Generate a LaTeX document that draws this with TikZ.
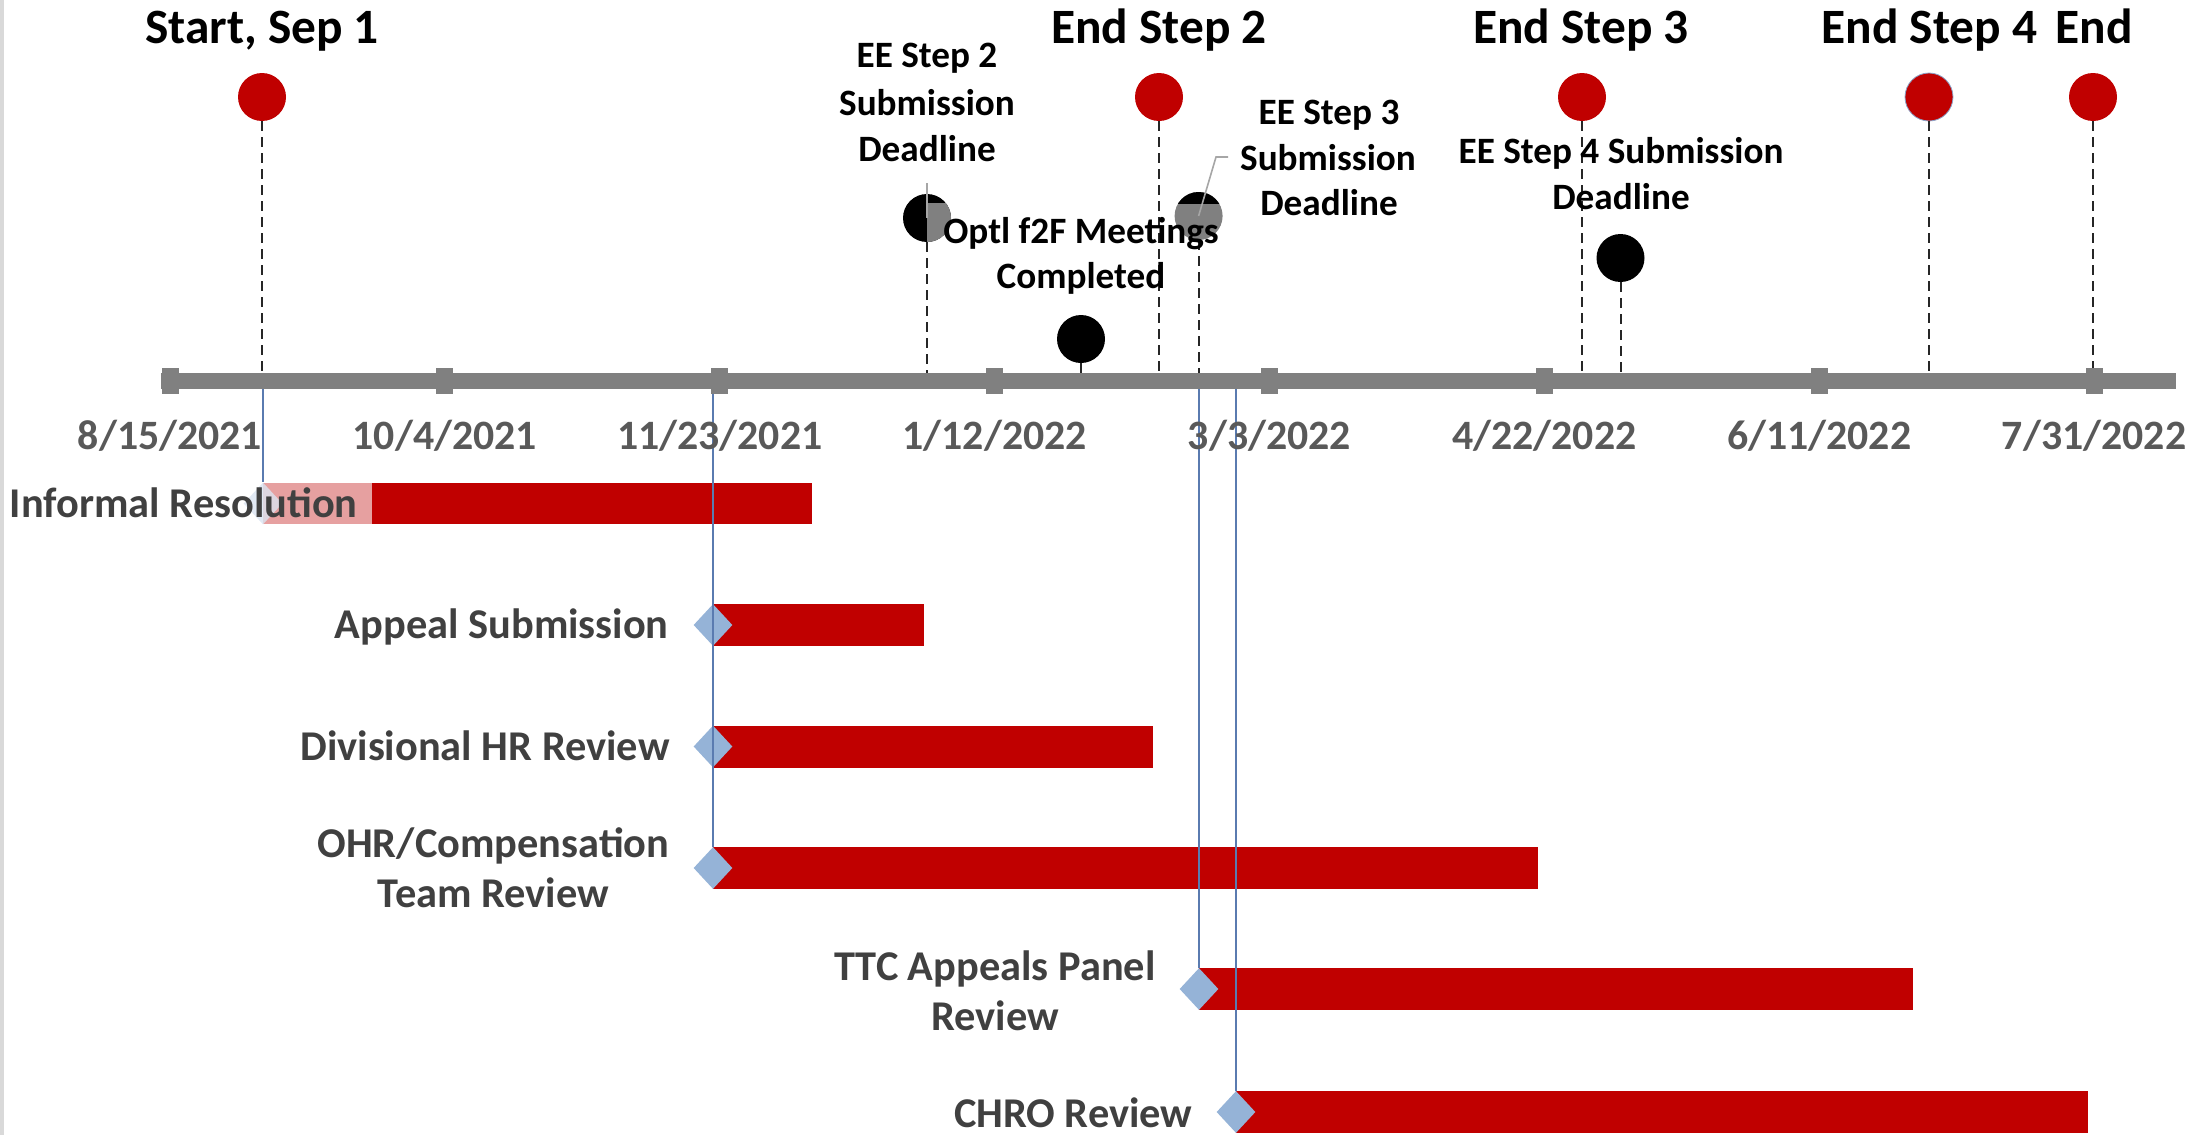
\documentclass[tikz,border=0pt]{standalone}
\usepackage{fontspec}
\setmainfont{Carlito}
\usetikzlibrary{shapes.geometric}
\definecolor{barred}{HTML}{C00000}
\definecolor{barpink}{HTML}{E6A0A0}
\definecolor{dia}{HTML}{95B3D7}
\definecolor{bline}{HTML}{5A7BB0}
\definecolor{axisgray}{HTML}{808080}
\definecolor{dategray}{HTML}{595959}
\definecolor{taskgray}{HTML}{404040}
\definecolor{leadgray}{HTML}{A6A6A6}
\definecolor{edgegray}{HTML}{D9D9D9}
\tikzset{
  milestone/.style={circle, fill=barred, minimum size=24pt, inner sep=0pt},
  eventdot/.style={circle, fill=black, minimum size=24pt, inner sep=0pt},
  dropline/.style={dash pattern=on 5pt off 3pt, line width=1pt, draw=black!85},
  leader/.style={draw=leadgray, line width=0.8pt},
  bigtitle/.style={font=\fontsize{24.7}{29}\selectfont\bfseries, anchor=base, inner sep=0pt},
  eelabel/.style={font=\fontsize{18.6}{22}\selectfont\bfseries, anchor=base, inner sep=0pt},
  datelabel/.style={font=\fontsize{20.9}{25}\selectfont\bfseries, text=dategray, anchor=base, inner sep=0pt},
  tasklabel/.style={font=\fontsize{21.2}{25}\selectfont\bfseries, text=taskgray, anchor=base east, inner sep=0pt},
  taskcenter/.style={font=\fontsize{21.2}{25}\selectfont\bfseries, text=taskgray, anchor=base, inner sep=0pt},
  msdiamond/.style={diamond, fill=dia, minimum width=19.5pt, minimum height=21pt, inner sep=0pt},
  blueline/.style={draw=bline, line width=1pt},
}
\begin{document}
\begin{tikzpicture}[x=0.5pt,y=-0.5pt]
\useasboundingbox (0,0) rectangle (2207,1135);
\fill[edgegray] (0,0) rectangle (4,1135);

% bars
\fill[barpink] (263,483) rectangle (372,524);
\fill[barred] (372,483) rectangle (812,524);
\fill[barred] (713,604) rectangle (924,646);
\fill[barred] (713,725.5) rectangle (1153,767.5);
\fill[barred] (713,847) rectangle (1538,889);
\fill[barred] (1199,968) rectangle (1913,1010);
\fill[barred] (1236,1091) rectangle (2088,1133);

% axis coordinates
\coordinate (axL) at (161,381);
\coordinate (axR) at (2176,381);
\coordinate (axtop) at (0,373);

% diamonds
\node[msdiamond, fill=dia!35, opacity=0.8] (dInf) at (263,503.5) {};
\node[msdiamond] (dApp) at (713,625) {};
\node[msdiamond] (dDiv) at (713,746.5) {};
\node[msdiamond] (dOHR) at (713,868) {};
\node[msdiamond] (dTTC) at (1199,989) {};
\node[msdiamond] (dCHRO) at (1236,1112) {};

% blue guide lines
\coordinate (gInf) at (263,381);
\coordinate (gOHR) at (713,381);
\coordinate (gTTC) at (1199,381);
\coordinate (gCHRO) at (1236,381);
\draw[blueline] (gInf) -- (dInf.north);
\draw[blueline] (gOHR) -- (dOHR.north);
\draw[blueline] (gTTC) -- (dTTC.north);
\draw[blueline] (gCHRO) -- (dCHRO.north);

% event circles
\node[milestone] (start) at (262,97) {};
\node[eventdot] (ee2) at (927,218) {};
\node[eventdot] (optl) at (1081,339) {};
\node[milestone] (end2) at (1159,97) {};
\node[circle, fill=axisgray, minimum size=24pt, inner sep=0pt] (ee3) at (1198.6,216) {};
\node[milestone] (end3) at (1582,97) {};
\node[eventdot] (ee4) at (1620.5,258) {};
\node[milestone, draw=bline!70, line width=0.4pt] (end4) at (1929,97) {};
\node[milestone] (endall) at (2093,97) {};

% partial shading inside the two deadline dots
\begin{scope}
  \clip (927,218) circle [radius=24];
  \fill[axisgray] (927,203) rectangle (960,250);
\end{scope}
\begin{scope}
  \clip (1198.6,216) circle [radius=24];
  \fill[black] (1170,180) rectangle (1230,204);
\end{scope}

% drop lines
\draw[dropline] (start.south) -- (start.south |- axtop);
\draw[dropline] (ee2.south) -- (ee2.south |- axtop);
\draw[dropline] (optl.south) -- (optl.south |- axtop);
\draw[dropline] (end2.south) -- (end2.south |- axtop);
\draw[dropline] (ee3.south) -- (ee3.south |- axtop);
\draw[dropline] (end3.south) -- (end3.south |- axtop);
\draw[dropline] (ee4.south) -- (ee4.south |- axtop);
\draw[dropline] (end4.south) -- (end4.south |- axtop);
\draw[dropline] (endall.south) -- (endall.south |- axtop);

% leaders
\coordinate (ee2lead) at (927,183);
\draw[leader] (ee2lead) -- (ee2.center);
\coordinate (ee3leadA) at (1228,157);
\coordinate (ee3leadB) at (1216,157);
\draw[leader] (ee3leadA) -- (ee3leadB) -- (ee3.center);

% axis
\draw[axisgray, line width=8pt] (axL) -- (axR);
\foreach \k in {0,...,7}{
  \fill[axisgray] ({170+274.857*\k-8.5},368) rectangle ({170+274.857*\k+8.5},394);
}

% dates
\node[datelabel] (d0) at (170,449) {8/15/2021};
\node[datelabel] (d1) at (444.9,449) {10/4/2021};
\node[datelabel] (d2) at (719.7,449) {11/23/2021};
\node[datelabel] (d3) at (994.6,449) {1/12/2022};
\node[datelabel] (d4) at (1269.4,449) {3/3/2022};
\node[datelabel] (d5) at (1544.3,449) {4/22/2022};
\node[datelabel] (d6) at (1819.1,449) {6/11/2022};
\node[datelabel] (d7) at (2094,449) {7/31/2022};

% top labels
\node[bigtitle] (tStart) at (262,43) {Start, Sep 1};
\node[bigtitle] (tEnd2) at (1159,43) {End Step 2};
\node[bigtitle] (tEnd3) at (1581,43) {End Step 3};
\node[bigtitle] (tEnd4) at (1929.5,43) {End Step 4};
\node[bigtitle] (tEnd) at (2094,43) {End};

\node[eelabel] (ee2a) at (927,68) {EE Step 2};
\node[eelabel] (ee2b) at (927,115) {Submission};
\node[eelabel] (ee2c) at (927,161) {Deadline};

\node[eelabel] (optla) at (1081,243) {Optl f2F Meetings};
\node[eelabel] (optlb) at (1081,288) {Completed};

\node[eelabel] (ee3a) at (1329,124) {EE Step 3};
\node[eelabel] (ee3b) at (1328,170) {Submission};
\node[eelabel] (ee3c) at (1329,215) {Deadline};

\node[eelabel] (ee4a) at (1621,163) {EE Step 4 Submission};
\node[eelabel] (ee4b) at (1621,209) {Deadline};

% task labels
\node[tasklabel] (lInf) at (358,517) {Informal Resolution};
\node[tasklabel] (lApp) at (669,638) {Appeal Submission};
\node[tasklabel] (lDiv) at (670,760) {Divisional HR Review};
\node[taskcenter] (lOHRa) at (493.5,857) {OHR/Compensation};
\node[taskcenter] (lOHRb) at (493.5,907) {Team Review};
\node[taskcenter] (lTTCa) at (995,980) {TTC Appeals Panel};
\node[taskcenter] (lTTCb) at (995,1030) {Review};
\node[tasklabel] (lCHRO) at (1193,1127) {CHRO Review};
\end{tikzpicture}
\end{document}
